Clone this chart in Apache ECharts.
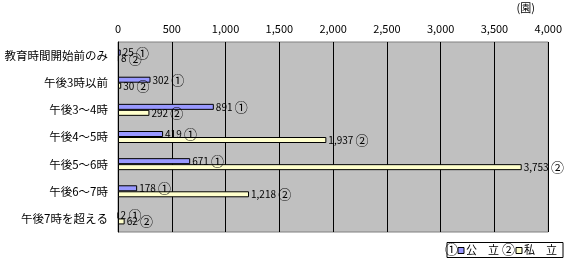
<!DOCTYPE html>
<html><head><meta charset="utf-8">
<script src="https://cdn.jsdelivr.net/npm/echarts@6/dist/echarts.min.js"></script>
<style>html,body{margin:0;padding:0;background:#fff}#c{width:565px;height:262px}</style>
</head><body><div id="c"></div>
<script>
const categories = ['教育時間開始前のみ','午後3時以前','午後3～4時','午後4～5時','午後5～6時','午後6～7時','午後7時を超える'];
const publicValues = [25, 302, 891, 419, 671, 178, 2];
const privateValues = [8, 30, 292, 1937, 3753, 1218, 62];
const xTicks = [0, 500, 1000, 1500, 2000, 2500, 3000, 3500, 4000];
const seriesNames = ['公　立', '私　立'];
const marks = ['①', '②'];

const FONT = '"Noto Sans CJK JP", sans-serif';
const chart = echarts.init(document.getElementById('c'), null, {renderer: 'canvas'});
function fmt(v){ return v.toLocaleString('en-US'); }
function mkSeries(i, vals, color){
  return {
    name: seriesNames[i], type: 'bar', data: vals, barWidth: 6, barGap: '0%',
    itemStyle: {color: color, borderColor: '#000', borderWidth: 1},
    label: {show: true, position: 'right', distance: 2, color: '#000', fontSize: 10, fontFamily: FONT,
      formatter: p => fmt(p.value) + ' {m|' + marks[i] + '}',
      rich: {m: {fontSize: 13, fontFamily: FONT, color: '#000'}}},
    silent: true, animation: false
  };
}
chart.setOption({
  animation: false,
  grid: {left: 118, right: 15, top: 42, bottom: 30, show: true, backgroundColor: '#c0c0c0', borderColor: '#808080', borderWidth: 1},
  xAxis: {type: 'value', position: 'top', min: xTicks[0], max: xTicks[xTicks.length-1], interval: 500,
    axisLine: {show: false}, axisTick: {show: false},
    axisLabel: {color: '#000', fontSize: 11, fontFamily: FONT, margin: 8, formatter: v => fmt(v)},
    splitLine: {show: true, lineStyle: {color: '#000', width: 1}}},
  yAxis: {type: 'category', data: categories, inverse: true,
    axisLine: {show: true, lineStyle: {color: '#000'}}, axisTick: {show: false},
    axisLabel: {color: '#000', fontSize: 11.5, fontFamily: FONT, margin: 10}},
  series: [mkSeries(0, publicValues, '#9999ff'), mkSeries(1, privateValues, '#ffffcc')],
  graphic: [
    {type: 'text', right: 30, top: 2, style: {text: '(園)', fontSize: 11, fontFamily: FONT, fill: '#000'}},
    {type: 'group', left: 445, top: 242, children: [
      {type: 'rect', shape: {x: 2, y: 0, width: 116, height: 15}, style: {fill: '#fff', stroke: '#000', lineWidth: 1}},
      {type: 'text', x: 0, y: 0, style: {text: '①', fontSize: 13, fontFamily: FONT, fill: '#000'}},
      {type: 'rect', shape: {x: 13, y: 5, width: 6, height: 6}, style: {fill: '#9999ff', stroke: '#000', lineWidth: 1}},
      {type: 'text', x: 21, y: 2, style: {text: '公　立', fontSize: 11, fontFamily: FONT, fill: '#000'}},
      {type: 'text', x: 57, y: 0, style: {text: '②', fontSize: 13, fontFamily: FONT, fill: '#000'}},
      {type: 'rect', shape: {x: 71, y: 5, width: 6, height: 6}, style: {fill: '#ffffcc', stroke: '#000', lineWidth: 1}},
      {type: 'text', x: 79, y: 2, style: {text: '私　立', fontSize: 11, fontFamily: FONT, fill: '#000'}}
    ]}
  ]
});
</script></body></html>
